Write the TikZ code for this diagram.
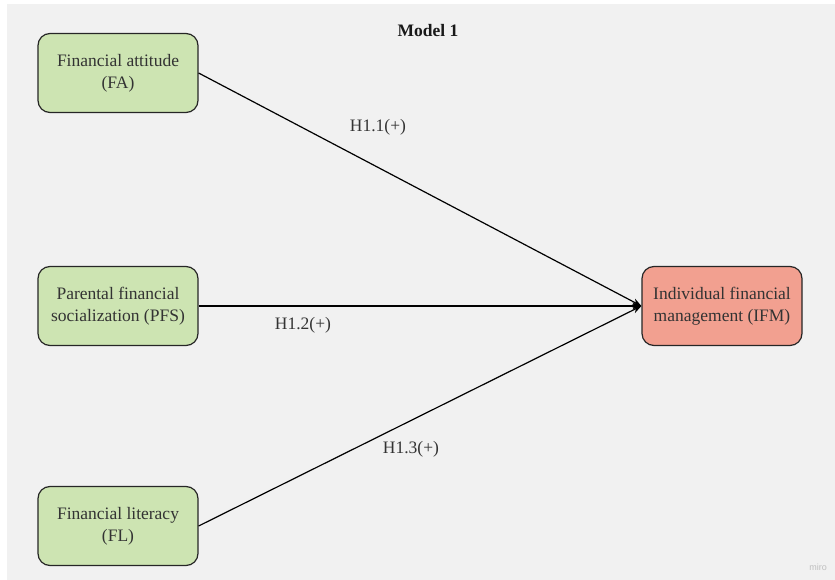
\documentclass[tikz,border=0pt]{standalone}
\usepackage{fontspec}
\setmainfont{Liberation Serif}
\newfontfamily\wmfont{Liberation Sans}
\usetikzlibrary{arrows.meta}
\definecolor{bggray}{HTML}{F1F1F1}
\definecolor{boxgreen}{HTML}{CDE4B2}
\definecolor{boxred}{HTML}{F2A090}
\definecolor{txtgray}{HTML}{333333}
\begin{document}
\begin{tikzpicture}[x=1pt,y=-1pt,
  varbox/.style={draw=black!85, line width=1.2pt, rounded corners=12pt,
    minimum width=160pt, minimum height=79pt, align=center,
    font=\fontsize{17.5}{22}\selectfont, text=txtgray, inner sep=2pt},
  path/.style={draw=black, line width=1.2pt, -{Stealth[length=9pt,width=7pt]}},
  hlabel/.style={font=\fontsize{17.5}{20}\selectfont, text=txtgray}]
\useasboundingbox (0,0) rectangle (835,580);
\fill[white] (0,0) rectangle (835,580);
\fill[bggray] (7,4) rectangle (835,580);
\node[font=\bfseries\fontsize{17.5}{20}\selectfont, text=black!90] (title) at (428,31) {Model 1};
\node[varbox, fill=boxgreen] (fa) at (118,73) {Financial attitude\\(FA)};
\node[varbox, fill=boxgreen] (pfs) at (118,306) {Parental financial\\socialization (PFS)};
\node[varbox, fill=boxgreen] (fl) at (118,526) {Financial literacy\\(FL)};
\node[varbox, fill=boxred] (ifm) at (722,306) {Individual financial\\management (IFM)};
\draw[path] (fa.east) -- (ifm.west);
\draw[path] (pfs.east) -- (ifm.west);
\draw[path] (fl.east) -- (ifm.west);
\node[hlabel] (h11) at (378,127) {H1.1(+)};
\node[hlabel] (h12) at (303,325) {H1.2(+)};
\node[hlabel] (h13) at (411,449) {H1.3(+)};
\node[font=\wmfont\fontsize{9}{10}\selectfont, text=black!25] (wm) at (818,567) {miro};
\end{tikzpicture}
\end{document}
